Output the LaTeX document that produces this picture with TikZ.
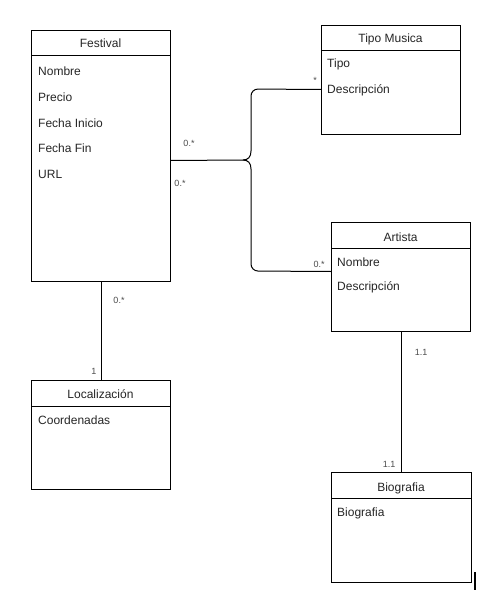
\documentclass[tikz,border=0pt]{standalone}
\usepackage{fontspec}
\setmainfont{Liberation Sans}
\begin{document}
\begin{tikzpicture}[x=1pt,y=-1pt,
  ent/.style={draw=black,line width=1pt,rectangle,anchor=north west,inner sep=0pt},
  ttl/.style={font=\fontsize{12}{14}\selectfont,text=black!85,anchor=center,inner sep=0pt},
  attr/.style={font=\fontsize{12}{14}\selectfont,text=black!85,anchor=west,inner sep=0pt},
  mult/.style={font=\fontsize{9}{10}\selectfont,text=black!70,anchor=center,inner sep=0pt},
  conn/.style={draw=black,line width=1pt}]
\useasboundingbox[fill=white] (0,0) rectangle (493,615);
% entities
\node[ent,minimum width=139pt,minimum height=251pt] (fest) at (31,30) {};
\node[ent,minimum width=139pt,minimum height=109pt] (tipo) at (321,25) {};
\node[ent,minimum width=139pt,minimum height=109pt] (art) at (331,222) {};
\node[ent,minimum width=139pt,minimum height=109pt] (loc) at (31,380) {};
\node[ent,minimum width=140pt,minimum height=110pt] (bio) at (331,472) {};
% header lines
\draw[line width=1pt] (31,56) -- (170,56);
\draw[line width=1pt] (321,51) -- (460,51);
\draw[line width=1pt] (331,248) -- (470,248);
\draw[line width=1pt] (31,406) -- (170,406);
\draw[line width=1pt] (331,498) -- (471,498);
% titles
\node[ttl] (tfest) at (100.5,43) {Festival};
\node[ttl] (ttipo) at (390.5,39) {Tipo Musica};
\node[ttl] (tart) at (400.5,237) {Artista};
\node[ttl] (tloc) at (100.5,394) {Localización};
\node[ttl] (tbio) at (401,488) {Biografia};
% attributes
\node[attr] (f1) at (38,71) {Nombre};
\node[attr] (f2) at (38,97) {Precio};
\node[attr] (f3) at (38,123) {Fecha Inicio};
\node[attr] (f4) at (38,148) {Fecha Fin};
\node[attr] (f5) at (38,174) {URL};
\node[attr] (t1) at (327,64) {Tipo};
\node[attr] (t2) at (327,90) {Descripción};
\node[attr] (a1) at (337,262) {Nombre};
\node[attr] (a2) at (337,287) {Descripción};
\node[attr] (l1) at (38,420) {Coordenadas};
\node[attr] (b1) at (337,513) {Biografia};
% connectors
\coordinate (jn) at (243,160);
\draw[conn] ([yshift=-4.5pt]fest.east) -- (jn);
\draw[conn] (jn) .. controls (248,160) and (251,157) .. (251,151)
  [rounded corners=7pt] -- (251,89) -- ([yshift=-9.5pt]tipo.west);
\draw[conn] (jn) .. controls (248,160) and (251,163) .. (251,169)
  [rounded corners=7pt] -- (251,271) -- ([yshift=5.5pt]art.west);
\draw[conn] (fest.south) -- (loc.north);
\draw[conn] (art.south) -- ([xshift=-0.5pt]bio.north);
% multiplicities
\node[mult] (m1) at (189,143) {0.*};
\node[mult] (m2) at (180,183) {0.*};
\node[mult] (m3) at (315,80) {*};
\node[mult] (m4) at (319,264) {0.*};
\node[mult] (m5) at (119,300) {0.*};
\node[mult] (m6) at (94,371) {1};
\node[mult] (m7) at (421,352) {1.1};
\node[mult] (m8) at (389,464) {1.1};
% cursor mark
\draw[line width=2pt] (475,572) -- (475,590);
\end{tikzpicture}
\end{document}
